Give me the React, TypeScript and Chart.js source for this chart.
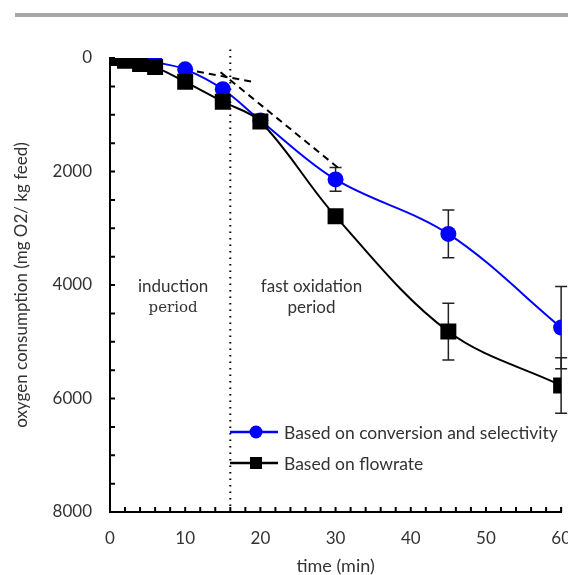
import React, { useEffect, useRef } from "react";
import { Chart, registerables } from "chart.js";

Chart.register(...registerables);

// ---- data ----
const times = [0, 2, 4, 6, 10, 15, 20, 30, 45, 60];
const conversionSeries = [0, 20, 50, 75, 200, 550, 1100, 2140, 3100, 4750];
const conversionError = [0, 0, 0, 0, 0, 0, 0, 210, 420, 725];
const flowrateSeries = [0, 50, 105, 160, 420, 770, 1120, 2790, 4820, 5770];
const flowrateError = [0, 0, 0, 0, 0, 0, 0, 0, 500, 490];
const inductionTangentX = [10, 19];
const inductionTangentY = [200, 420];
const oxidationTangentX = [14.7, 30.3];
const oxidationTangentY = [250, 1930];
const inductionEnd = 16;
const xRange = [0, 60];
const yRange = [0, 8000];
const xStep = 10;
const yStep = 2000;
const xMinorStep = 2;
const yMinorStep = 500;
const legendLabels = ["Based on conversion and selectivity", "Based on flowrate"];
const xTitle = "time (min)";
const yTitle = "oxygen consumption (mg O2/ kg feed)";
const regionLeft = ["induction", "period"];
const regionRight = ["fast oxidation", "period"];
const regionLeftX = 8.4;
const regionRightX = 26.8;
const regionY = [4030, 4400];

const BLUE = "#0000ff";
const BLACK = "#000000";
const TEXT = "#333333";
const SANS = "Lato, 'Open Sans', sans-serif";
const SERIF = "'DejaVu Serif', serif";

const pts = (xs: number[], ys: number[]) => xs.map((x, i) => ({ x, y: ys[i] }));

const decor = {
  id: "decor",
  beforeDraw(chart: any) {
    const ctx = chart.ctx;
    ctx.save();
    ctx.fillStyle = "#a6a6a6";
    ctx.fillRect(15, 13, chart.width - 15, 4);
    ctx.restore();
  },
  beforeDatasetsDraw(chart: any) {
    const ctx = chart.ctx;
    const xs = chart.scales.x;
    const ys = chart.scales.y;
    const area = chart.chartArea;
    ctx.save();
    ctx.strokeStyle = "#000";
    ctx.lineWidth = 2;
    ctx.setLineDash([1.5, 5]);
    const dx = xs.getPixelForValue(inductionEnd);
    ctx.beginPath();
    ctx.moveTo(dx, ys.getPixelForValue(-150));
    ctx.lineTo(dx, area.bottom);
    ctx.stroke();
    ctx.setLineDash([]);
    const drawErr = (vals: number[], errs: number[]) => {
      ctx.strokeStyle = "#222";
      ctx.lineWidth = 1.5;
      times.forEach((t, i) => {
        const e = errs[i];
        if (!e) return;
        const px = xs.getPixelForValue(t);
        const y1 = ys.getPixelForValue(vals[i] - e);
        const y2 = ys.getPixelForValue(vals[i] + e);
        ctx.beginPath();
        ctx.moveTo(px, y1);
        ctx.lineTo(px, y2);
        ctx.moveTo(px - 6, y1);
        ctx.lineTo(px + 6, y1);
        ctx.moveTo(px - 6, y2);
        ctx.lineTo(px + 6, y2);
        ctx.stroke();
      });
    };
    drawErr(conversionSeries, conversionError);
    drawErr(flowrateSeries, flowrateError);
    ctx.restore();
  },
  afterDraw(chart: any) {
    const ctx = chart.ctx;
    const xs = chart.scales.x;
    const ys = chart.scales.y;
    const area = chart.chartArea;
    ctx.save();
    ctx.strokeStyle = "#000";
    ctx.lineWidth = 2;
    ctx.beginPath();
    for (let v = xRange[0]; v <= xRange[1]; v += xMinorStep) {
      const px = xs.getPixelForValue(v);
      ctx.moveTo(px, area.bottom);
      ctx.lineTo(px, area.bottom - 5);
    }
    for (let v = yRange[0]; v <= yRange[1]; v += yMinorStep) {
      const py = ys.getPixelForValue(v);
      ctx.moveTo(area.left, py);
      ctx.lineTo(area.left + 5, py);
    }
    ctx.stroke();
    ctx.fillStyle = TEXT;
    ctx.textAlign = "center";
    ctx.textBaseline = "middle";
    ctx.font = `17px ${SANS}`;
    ctx.fillText(regionLeft[0], xs.getPixelForValue(regionLeftX), ys.getPixelForValue(regionY[0]));
    ctx.fillText(regionRight[0], xs.getPixelForValue(regionRightX), ys.getPixelForValue(regionY[0]));
    ctx.fillText(regionRight[1], xs.getPixelForValue(regionRightX), ys.getPixelForValue(regionY[1]));
    ctx.font = `15px ${SERIF}`;
    ctx.fillText(regionLeft[1], xs.getPixelForValue(regionLeftX), ys.getPixelForValue(regionY[1]));
    const items = [
      { label: legendLabels[0], color: BLUE, style: "circle", dy: 374 },
      { label: legendLabels[1], color: BLACK, style: "rect", dy: 405 },
    ];
    ctx.textAlign = "left";
    ctx.font = `17.5px ${SANS}`;
    items.forEach((it) => {
      const y = area.top + it.dy;
      const x0 = area.left + 120;
      ctx.strokeStyle = it.color;
      ctx.lineWidth = 2.5;
      ctx.beginPath();
      ctx.moveTo(x0, y);
      ctx.lineTo(x0 + 48, y);
      ctx.stroke();
      ctx.fillStyle = it.color;
      if (it.style === "circle") {
        ctx.beginPath();
        ctx.arc(x0 + 26, y, 6.5, 0, Math.PI * 2);
        ctx.fill();
      } else {
        ctx.fillRect(x0 + 20, y - 6, 12, 12);
      }
      ctx.fillStyle = TEXT;
      ctx.fillText(it.label, x0 + 54, y + 1);
    });
    ctx.restore();
  },
};

export default function App() {
  const ref = useRef<HTMLCanvasElement>(null);
  useEffect(() => {
    const canvas = ref.current!;
    const chart = new Chart(canvas, {
      type: "line",
      data: {
        datasets: [
          {
            label: legendLabels[0],
            data: pts(times, conversionSeries),
            borderColor: BLUE,
            backgroundColor: BLUE,
            borderWidth: 2,
            pointStyle: "circle",
            pointRadius: 8,
            pointBorderWidth: 0,
            tension: 0.35,
            order: 1,
          },
          {
            label: legendLabels[1],
            data: pts(times, flowrateSeries),
            borderColor: BLACK,
            backgroundColor: BLACK,
            borderWidth: 2,
            pointStyle: "rect",
            pointRadius: 11.3,
            pointBorderWidth: 0,
            tension: 0.35,
            order: 0,
          },
          {
            label: "induction tangent",
            data: pts(inductionTangentX, inductionTangentY),
            borderColor: BLACK,
            borderWidth: 2,
            borderDash: [7, 5],
            pointRadius: 0,
            tension: 0,
            order: 2,
          },
          {
            label: "oxidation tangent",
            data: pts(oxidationTangentX, oxidationTangentY),
            borderColor: BLACK,
            borderWidth: 2,
            borderDash: [7, 5],
            pointRadius: 0,
            tension: 0,
            order: 2,
          },
        ],
      },
      options: {
        animation: false,
        responsive: false,
        layout: { padding: { top: 58, left: 0, right: 0, bottom: 0 } },
        plugins: { legend: { display: false }, tooltip: { enabled: false } },
        scales: {
          x: {
            type: "linear",
            min: xRange[0],
            max: xRange[1],
            ticks: {
              stepSize: xStep,
              color: TEXT,
              font: { family: SANS, size: 17 },
              padding: 16,
              callback: (v: any) => String(v),
            },
            grid: { display: false, drawTicks: false },
            border: { display: true, color: "#000", width: 2 },
            title: {
              display: true,
              text: xTitle,
              color: TEXT,
              font: { family: SANS, size: 18, lineHeight: 1 },
              padding: { top: 0, bottom: 0 },
            },
            afterFit: (s: any) => {
              s.height = 63;
            },
          },
          y: {
            type: "linear",
            reverse: true,
            min: yRange[0],
            max: yRange[1],
            ticks: {
              stepSize: yStep,
              color: TEXT,
              font: { family: SANS, size: 17 },
              padding: 18,
              callback: (v: any) => String(v),
            },
            grid: { display: false, drawTicks: false },
            border: { display: true, color: "#000", width: 2 },
            title: {
              display: true,
              text: yTitle,
              color: TEXT,
              font: { family: SANS, size: 17 },
              padding: { top: 11, bottom: 0 },
            },
            afterFit: (s: any) => {
              s.width = 110;
            },
          },
        },
      },
      plugins: [decor],
    } as any);
    return () => chart.destroy();
  }, []);
  return (
    <div style={{ position: "fixed", left: 0, top: 0, width: 568, height: 575, overflow: "hidden", background: "#fff" }}>
      <canvas ref={ref} width={587} height={575} style={{ width: 587, height: 575, display: "block" }} />
    </div>
  );
}
